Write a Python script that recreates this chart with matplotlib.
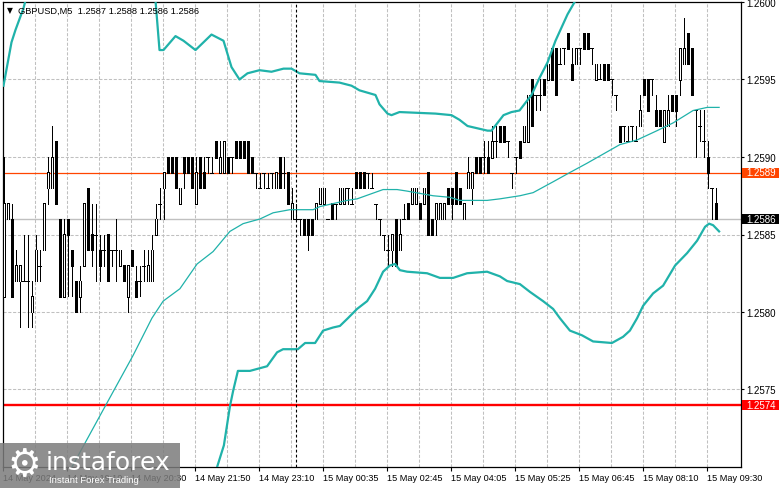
import matplotlib
matplotlib.use("Agg")
import matplotlib.pyplot as plt
import matplotlib.transforms as mtransforms
from matplotlib.collections import LineCollection
from matplotlib.patches import Rectangle

# ---------------- data (GBPUSD M5) ----------------
opens = [1.2581, 1.2586, 1.2586, 1.2582, 1.2582, 1.2582, 1.2582, 1.2580, 1.2582, 1.2583,
         1.2584, 1.2588, 1.2588, 1.2591, 1.2586, 1.2581, 1.2586, 1.2584, 1.2582, 1.2581,
         1.2583, 1.2588, 1.2585, 1.2585, 1.2584, 1.2584, 1.2585, 1.2584, 1.2584, 1.2583,
         1.2583, 1.2581, 1.2584, 1.2582, 1.2582, 1.2583, 1.2582, 1.2582, 1.2585, 1.2587,
         1.2588, 1.2590, 1.2590, 1.2590, 1.2587, 1.2590, 1.2590, 1.2590, 1.2587, 1.2590,
         1.2589, 1.2590, 1.2589, 1.2591, 1.2589, 1.2589, 1.2590, 1.2590, 1.2591, 1.2591,
         1.2591, 1.2591, 1.2590, 1.2589, 1.2588, 1.2589, 1.2588, 1.2589, 1.2588, 1.2590,
         1.2589, 1.2589, 1.2586, 1.2586, 1.2586, 1.2586, 1.2586, 1.2586, 1.2586, 1.2587,
         1.2587, 1.2586, 1.2587, 1.2587, 1.2587, 1.2587, 1.2588, 1.2587, 1.2589, 1.2589,
         1.2589, 1.2589, 1.2588, 1.2587, 1.2586, 1.2585, 1.2584, 1.2584, 1.2586, 1.2584,
         1.2586, 1.2587, 1.2587, 1.2587, 1.2587, 1.2587, 1.2589, 1.2586, 1.2586, 1.2586,
         1.2586, 1.2588, 1.2588, 1.2589, 1.2588, 1.2586, 1.2588, 1.2588, 1.2590, 1.2590,
         1.2590, 1.2590, 1.2590, 1.2591, 1.2592, 1.2592, 1.2591, 1.2589, 1.2590, 1.2591,
         1.2591, 1.2591, 1.2595, 1.2594, 1.2594, 1.2595, 1.2595, 1.2597, 1.2597, 1.2596,
         1.2597, 1.2598, 1.2596, 1.2596, 1.2597, 1.2598, 1.2598, 1.2597, 1.2595, 1.2595,
         1.2596, 1.2596, 1.2595, 1.2594, 1.2592, 1.2592, 1.2591, 1.2592, 1.2591, 1.2592,
         1.2595, 1.2595, 1.2595, 1.2593, 1.2593, 1.2591, 1.2592, 1.2594, 1.2594, 1.2595,
         1.2596, 1.2598, 1.2597, 1.2593, 1.2592, 1.2591, 1.2590, 1.2588, 1.2587]
highs = [1.2590, 1.2587, 1.2587, 1.2584, 1.2583, 1.2585, 1.2585, 1.2582, 1.2585, 1.2584,
         1.2587, 1.2590, 1.2592, 1.2591, 1.2586, 1.2586, 1.2586, 1.2584, 1.2582, 1.2583,
         1.2587, 1.2588, 1.2587, 1.2587, 1.2585, 1.2585, 1.2585, 1.2584, 1.2586, 1.2584,
         1.2583, 1.2583, 1.2584, 1.2583, 1.2583, 1.2584, 1.2584, 1.2585, 1.2587, 1.2588,
         1.2589, 1.2590, 1.2590, 1.2590, 1.2588, 1.2590, 1.2590, 1.2590, 1.2590, 1.2590,
         1.2590, 1.2590, 1.2590, 1.2591, 1.2591, 1.2591, 1.2590, 1.2590, 1.2591, 1.2591,
         1.2591, 1.2591, 1.2590, 1.2589, 1.2589, 1.2589, 1.2589, 1.2589, 1.2589, 1.2590,
         1.2590, 1.2589, 1.2588, 1.2587, 1.2586, 1.2586, 1.2586, 1.2586, 1.2587, 1.2588,
         1.2588, 1.2586, 1.2587, 1.2587, 1.2588, 1.2588, 1.2588, 1.2588, 1.2589, 1.2589,
         1.2589, 1.2589, 1.2589, 1.2587, 1.2586, 1.2585, 1.2585, 1.2585, 1.2586, 1.2586,
         1.2587, 1.2587, 1.2588, 1.2588, 1.2587, 1.2588, 1.2589, 1.2586, 1.2587, 1.2587,
         1.2587, 1.2588, 1.2588, 1.2589, 1.2588, 1.2587, 1.2590, 1.2589, 1.2590, 1.2590,
         1.2591, 1.2591, 1.2592, 1.2592, 1.2592, 1.2592, 1.2591, 1.2589, 1.2590, 1.2591,
         1.2592, 1.2594, 1.2595, 1.2594, 1.2595, 1.2595, 1.2596, 1.2597, 1.2597, 1.2597,
         1.2597, 1.2598, 1.2597, 1.2597, 1.2597, 1.2598, 1.2598, 1.2597, 1.2596, 1.2596,
         1.2596, 1.2596, 1.2595, 1.2594, 1.2592, 1.2592, 1.2592, 1.2592, 1.2592, 1.2594,
         1.2595, 1.2595, 1.2595, 1.2594, 1.2593, 1.2593, 1.2594, 1.2594, 1.2594, 1.2597,
         1.2599, 1.2598, 1.2597, 1.2593, 1.2593, 1.2593, 1.2591, 1.2588, 1.2588]
lows = [1.2581, 1.2586, 1.2581, 1.2582, 1.2579, 1.2582, 1.2579, 1.2579, 1.2582, 1.2582,
        1.2584, 1.2587, 1.2588, 1.2587, 1.2581, 1.2581, 1.2581, 1.2581, 1.2580, 1.2580,
        1.2583, 1.2584, 1.2583, 1.2582, 1.2582, 1.2583, 1.2582, 1.2583, 1.2582, 1.2583,
        1.2582, 1.2580, 1.2583, 1.2581, 1.2581, 1.2582, 1.2582, 1.2582, 1.2585, 1.2586,
        1.2586, 1.2589, 1.2589, 1.2588, 1.2587, 1.2588, 1.2589, 1.2588, 1.2587, 1.2588,
        1.2588, 1.2589, 1.2589, 1.2590, 1.2589, 1.2589, 1.2589, 1.2589, 1.2590, 1.2590,
        1.2590, 1.2589, 1.2589, 1.2588, 1.2588, 1.2588, 1.2588, 1.2588, 1.2588, 1.2588,
        1.2588, 1.2587, 1.2586, 1.2586, 1.2585, 1.2585, 1.2584, 1.2585, 1.2586, 1.2587,
        1.2587, 1.2586, 1.2586, 1.2586, 1.2587, 1.2587, 1.2587, 1.2587, 1.2588, 1.2588,
        1.2588, 1.2588, 1.2588, 1.2586, 1.2585, 1.2584, 1.2583, 1.2583, 1.2583, 1.2584,
        1.2586, 1.2586, 1.2587, 1.2587, 1.2586, 1.2587, 1.2585, 1.2585, 1.2585, 1.2586,
        1.2586, 1.2587, 1.2586, 1.2587, 1.2587, 1.2586, 1.2588, 1.2587, 1.2589, 1.2589,
        1.2589, 1.2589, 1.2590, 1.2590, 1.2591, 1.2591, 1.2590, 1.2588, 1.2589, 1.2590,
        1.2591, 1.2591, 1.2592, 1.2593, 1.2593, 1.2594, 1.2595, 1.2595, 1.2594, 1.2596,
        1.2596, 1.2597, 1.2595, 1.2596, 1.2596, 1.2597, 1.2597, 1.2596, 1.2595, 1.2595,
        1.2595, 1.2595, 1.2594, 1.2593, 1.2591, 1.2591, 1.2591, 1.2591, 1.2591, 1.2592,
        1.2594, 1.2593, 1.2594, 1.2592, 1.2592, 1.2591, 1.2592, 1.2593, 1.2592, 1.2594,
        1.2596, 1.2596, 1.2594, 1.2590, 1.2591, 1.2590, 1.2588, 1.2586, 1.2586]
closes = [1.2587, 1.2587, 1.2581, 1.2583, 1.2583, 1.2582, 1.2582, 1.2581, 1.2584, 1.2583,
          1.2587, 1.2589, 1.2590, 1.2587, 1.2581, 1.2585, 1.2585, 1.2583, 1.2580, 1.2582,
          1.2587, 1.2584, 1.2584, 1.2585, 1.2583, 1.2584, 1.2582, 1.2584, 1.2584, 1.2584,
          1.2582, 1.2583, 1.2583, 1.2581, 1.2582, 1.2583, 1.2583, 1.2584, 1.2586, 1.2587,
          1.2589, 1.2589, 1.2589, 1.2588, 1.2588, 1.2589, 1.2589, 1.2588, 1.2589, 1.2588,
          1.2588, 1.2590, 1.2589, 1.2590, 1.2590, 1.2591, 1.2589, 1.2590, 1.2590, 1.2590,
          1.2590, 1.2589, 1.2589, 1.2589, 1.2588, 1.2589, 1.2588, 1.2589, 1.2589, 1.2588,
          1.2589, 1.2587, 1.2587, 1.2586, 1.2586, 1.2585, 1.2585, 1.2585, 1.2587, 1.2588,
          1.2588, 1.2586, 1.2586, 1.2587, 1.2588, 1.2588, 1.2588, 1.2587, 1.2588, 1.2588,
          1.2588, 1.2589, 1.2588, 1.2587, 1.2586, 1.2585, 1.2584, 1.2585, 1.2583, 1.2585,
          1.2586, 1.2586, 1.2588, 1.2588, 1.2586, 1.2588, 1.2585, 1.2585, 1.2587, 1.2587,
          1.2587, 1.2587, 1.2587, 1.2587, 1.2587, 1.2587, 1.2589, 1.2589, 1.2589, 1.2589,
          1.2590, 1.2589, 1.2591, 1.2591, 1.2591, 1.2591, 1.2591, 1.2589, 1.2590, 1.2590,
          1.2592, 1.2594, 1.2592, 1.2594, 1.2594, 1.2594, 1.2596, 1.2595, 1.2594, 1.2596,
          1.2597, 1.2597, 1.2595, 1.2597, 1.2597, 1.2597, 1.2597, 1.2597, 1.2596, 1.2595,
          1.2595, 1.2595, 1.2595, 1.2594, 1.2591, 1.2592, 1.2591, 1.2592, 1.2591, 1.2593,
          1.2594, 1.2593, 1.2595, 1.2592, 1.2592, 1.2593, 1.2593, 1.2593, 1.2593, 1.2597,
          1.2597, 1.2596, 1.2594, 1.2593, 1.2592, 1.2591, 1.2589, 1.2588, 1.2586]

# Bollinger-style bands (bar index, price)
upper_idx = [0, 2, 3, 5, 6, 10, 20, 30, 37, 38, 39, 40, 42, 43, 45, 48, 52, 55, 57, 59,
             61, 64, 67, 70, 72, 74, 78, 79, 84, 87, 89, 93, 94, 96, 97, 99, 108, 112, 114, 116,
             121, 122, 125, 127, 129, 132, 134, 136, 138, 141, 143, 146, 155, 165, 179]
upper_val = [1.25946, 1.25974, 1.25982, 1.25996, 1.26006, 1.2603, 1.2606, 1.2607, 1.2604, 1.26001,
             1.25969, 1.25969, 1.25975, 1.25978, 1.25975, 1.25969, 1.25979, 1.25975, 1.25958, 1.25950,
             1.25954, 1.25956, 1.25955, 1.25957, 1.25957, 1.25954, 1.25953, 1.25949, 1.25948, 1.25946,
             1.25943, 1.25940, 1.25934, 1.25928, 1.25927, 1.25929, 1.25928, 1.25927, 1.25924, 1.25920,
             1.25917, 1.25917, 1.25927, 1.25929, 1.25930, 1.25940, 1.25951, 1.25961, 1.25975, 1.25992,
             1.26001, 1.2602, 1.2606, 1.2609, 1.2608]
lower_idx = [0, 25, 45, 52, 53.4, 55.1, 56.6, 57.4, 58.6, 61.6, 65.9, 68.4, 69.9, 73.6, 75.4,
             77.9, 79.9, 82.4, 84.1, 86.1, 88.4, 90.9, 92.9, 94.9, 96.6, 97.9, 99.1, 100.9, 105.9,
             109.1, 112.4, 115.9, 120.9, 124.1, 125.9, 129.1, 131.6, 134.9, 137.4, 139.1, 141.6,
             144.6, 147.4, 152.1, 154.9, 156.6, 158.4, 159.9, 162.4, 164.9, 167.9, 170.9, 173.4,
             175.4, 176.4, 177.4, 178.9]
lower_val = [1.2560, 1.2555, 1.2562, 1.25688, 1.25700, 1.25714, 1.25739, 1.25749, 1.25762, 1.25762,
             1.25765, 1.25774, 1.25776, 1.25776, 1.25780, 1.25780, 1.25788, 1.25790, 1.25791, 1.25796,
             1.25802, 1.25807, 1.25815, 1.25826, 1.25830, 1.25831, 1.25827, 1.25826, 1.25825, 1.25822,
             1.25822, 1.25825, 1.25826, 1.25823, 1.25820, 1.25818, 1.25813, 1.25807, 1.25802, 1.25796,
             1.25788, 1.25785, 1.25781, 1.25780, 1.25784, 1.25788, 1.25796, 1.25804, 1.25812, 1.25817,
             1.25830, 1.25838, 1.25846, 1.25855, 1.25857, 1.25856, 1.25852]
middle_idx = [0, 11.6, 17.1, 24.1, 32.4, 37.1, 39.9, 44.1, 48.4, 52.4, 56.6, 59.9, 64.1, 67.4,
              71.6, 77.4, 79.1, 85.9, 88.4, 94.9, 98.4, 100.9, 107.4, 111.6, 114.1, 120.9, 124.1,
              129.1, 132.4, 137.4, 141.6, 145.9, 154.1, 158.4, 163.4, 167.4, 172.4, 175.9, 178.9]
middle_val = [1.2563, 1.25640, 1.25700, 1.25733, 1.25772, 1.25796, 1.25807, 1.25815, 1.25831, 1.25839,
              1.25852, 1.25857, 1.25860, 1.25864, 1.25866, 1.25866, 1.25868, 1.25872, 1.25873, 1.25879,
              1.25879, 1.25878, 1.25875, 1.25874, 1.25872, 1.25872, 1.25873, 1.25875, 1.25877, 1.25884,
              1.25890, 1.25896, 1.25908, 1.25911, 1.25917, 1.25922, 1.25930, 1.25932, 1.25932]

level_orange = 1.2589
level_current = 1.2586
level_red = 1.2574
crosshair_bar = 73

price_ticks = [1.2575, 1.2580, 1.2585, 1.2590, 1.2595, 1.2600]
time_labels = ["14 May 2024", "14 May 19:10", "14 May 20:30", "14 May 21:50",
               "14 May 23:10", "15 May 00:35", "15 May 02:45", "15 May 04:05",
               "15 May 05:25", "15 May 06:45", "15 May 08:10", "15 May 09:30"]
title_text = "GBPUSD,M5  1.2587 1.2588 1.2586 1.2586"

# ---------------- figure ----------------
W, H = 781, 489
fig = plt.figure(figsize=(W / 100, H / 100), dpi=100)
fig.patch.set_facecolor("white")
ax = fig.add_axes([3 / W, 21 / H, 738 / W, 465 / H])
ax.set_facecolor("white")
XMIN, XMAX = -0.125, 184.375
YMIN, YMAX = 1.2570, 1.2600
ax.set_xlim(XMIN, XMAX)
ax.set_ylim(YMIN, YMAX)
PX = 72.0 / 100.0                    # one pixel in points
YPX = (YMAX - YMIN) / 465.0          # one pixel in price units

TEAL = "#20B2AA"
GRID = "#C0C0C0"
dash = (0, (3.0, 1.6))

# grid
for j in range(1, 23):
    ax.axvline(8 * j - 0.125, color=GRID, lw=0.75, ls=dash, zorder=1)
for p in price_ticks[:-1]:
    ax.axhline(p, color=GRID, lw=0.75, ls=dash, zorder=1)

# level lines
ax.axhline(level_current, color="#C0C0C0", lw=1.0, zorder=1.5)
ax.axhline(level_orange, color="#FF4500", lw=0.9, zorder=1.6)
ax.axhline(level_red, color="#FF0000", lw=1.7, zorder=1.6)

# candles: 1px wick, 3px body; bullish bodies hollow
n = len(opens)
wicks = [((i, lows[i]), (i, highs[i])) for i in range(n)]
ax.add_collection(LineCollection(wicks, colors="black", linewidths=PX,
                                 antialiaseds=False, capstyle="butt", zorder=3))
dojis = [((i - 0.375, opens[i]), (i + 0.375, opens[i])) for i in range(n) if opens[i] == closes[i]]
ax.add_collection(LineCollection(dojis, colors="black", linewidths=PX,
                                 antialiaseds=False, capstyle="butt", zorder=3.2))
outer = [((i, min(opens[i], closes[i]) - 0.5 * YPX), (i, max(opens[i], closes[i]) + 0.5 * YPX))
         for i in range(n) if opens[i] != closes[i]]
ax.add_collection(LineCollection(outer, colors="black", linewidths=3 * PX,
                                 antialiaseds=False, capstyle="butt", zorder=3.4))
inner = [((i, opens[i] + 0.5 * YPX), (i, closes[i] - 0.5 * YPX))
         for i in range(n) if closes[i] > opens[i]]
ax.add_collection(LineCollection(inner, colors="white", linewidths=PX,
                                 antialiaseds=False, capstyle="butt", zorder=3.6))

# bands
ax.plot(upper_idx, upper_val, color=TEAL, lw=1.6, zorder=4)
ax.plot(lower_idx, lower_val, color=TEAL, lw=1.6, zorder=4)
ax.plot(middle_idx, middle_val, color=TEAL, lw=0.9, zorder=4)

# crosshair vertical
ax.axvline(crosshair_bar, color="black", lw=0.8, ls=(0, (2.5, 2.0)), zorder=5)

# axes styling
for s in ax.spines.values():
    s.set_color("black")
    s.set_linewidth(0.9)
ax.yaxis.tick_right()
ax.set_yticks(price_ticks)
ax.set_yticklabels([f"{p:.4f}" for p in price_ticks])
ax.tick_params(axis="y", direction="out", length=2.5, width=0.8, pad=1.5,
               labelsize=7.0, colors="black")
xt = [16 * j - 0.125 for j in range(len(time_labels))]
ax.set_xticks(xt)
ax.set_xticklabels(time_labels, ha="left")
ax.tick_params(axis="x", direction="out", length=3, width=0.8, pad=1.5,
               labelsize=6.6, colors="black")
for lab in ax.get_xticklabels() + ax.get_yticklabels():
    lab.set_family(["Liberation Sans", "DejaVu Sans"])

# price boxes on right axis
trans = mtransforms.blended_transform_factory(ax.transAxes, ax.transData)
box_h = 10 * YPX
for val, fc in [(level_orange, "#FF4500"), (level_current, "black"), (level_red, "#FF0000")]:
    ax.add_patch(Rectangle((1.0 + 1 / 738, val - box_h / 2), 37 / 738, box_h,
                           transform=trans, clip_on=False, fc=fc, ec="none", zorder=10))
    ax.text(1.0 + 5 / 738, val, f"{val:.4f}", transform=trans, ha="left", va="center",
            fontsize=7.0, color="white", family=["Liberation Sans", "DejaVu Sans"],
            clip_on=False, zorder=11)

# title
fig.text(7 / W, 1 - 11 / H, "\u25BC", fontsize=5.5, va="center", ha="left",
         family="DejaVu Sans", color="black")
fig.text(18 / W, 1 - 11 / H, title_text, fontsize=6.7, va="center", ha="left",
         family=["Liberation Sans", "DejaVu Sans"], color="black")

# watermark
fig.patches.append(Rectangle((0, 0), 180 / W, 45 / H, transform=fig.transFigure,
                             fc="#7c7c7c", alpha=0.85, ec="none", zorder=20))
fig.text(24 / W, 23 / H, "\u2699", fontsize=27, color="white", ha="center", va="center",
         family="DejaVu Sans", zorder=21)
fig.text(46 / W, 26 / H, "instaforex", fontsize=18, color="white", ha="left",
         va="center", family="DejaVu Sans", zorder=21)
fig.text(49 / W, 8 / H, "Instant Forex Trading", fontsize=6.8, color="white", ha="left",
         va="center", family=["Liberation Sans", "DejaVu Sans"], zorder=21)

fig.savefig("out.png", dpi=100)
